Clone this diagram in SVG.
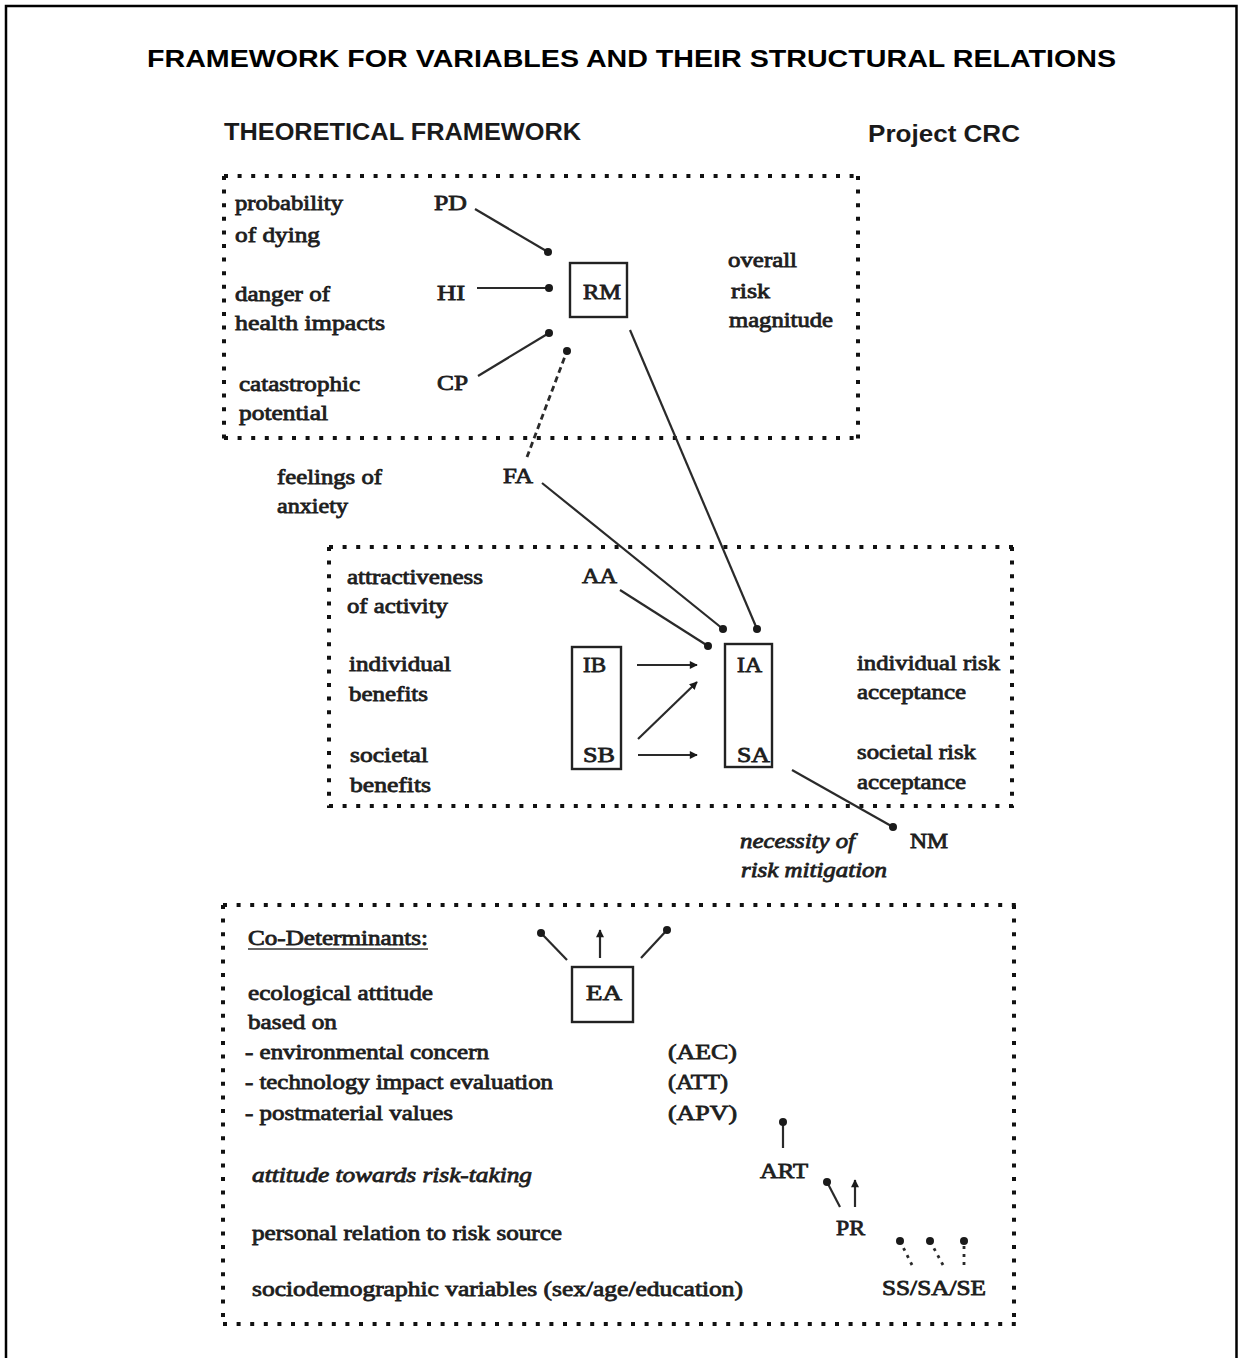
<svg xmlns="http://www.w3.org/2000/svg" width="1238" height="1358" viewBox="0 0 1238 1358">
  <style>
    .frame { fill: none; stroke: #000; stroke-width: 2.5; }
    .title { font-family: "Liberation Sans", Arial, sans-serif; font-weight: bold; fill: #000; }
    .hdr { font-family: "Liberation Sans Narrow", "Liberation Sans", Arial, sans-serif; font-weight: bold; fill: #1a1a1a; }
    .t { font-family: "Liberation Serif", "Times New Roman", serif; font-size: 21px; fill: #1e1e1e; stroke: #1e1e1e; stroke-width: 0.8; }
    .it { font-style: italic; }
    .dots { fill: none; stroke: #111; stroke-width: 4; stroke-dasharray: 4 9.6; }
    .box { fill: none; stroke: #222; stroke-width: 2.4; }
    .ln { fill: none; stroke: #2a2a2a; stroke-width: 2.2; }
    .dash { fill: none; stroke: #2a2a2a; stroke-width: 2.8; stroke-dasharray: 6 4; }
    .dotl { fill: none; stroke: #2a2a2a; stroke-width: 2.8; stroke-dasharray: 3 5; }
  </style>
  <defs>
    <marker id="dot" viewBox="0 0 10 10" refX="5" refY="5" markerWidth="8" markerHeight="8" markerUnits="userSpaceOnUse">
      <circle cx="5" cy="5" r="5" fill="#1a1a1a"/>
    </marker>
    <marker id="arr" viewBox="0 0 10 10" refX="9" refY="5" markerWidth="9" markerHeight="8" markerUnits="userSpaceOnUse" orient="auto">
      <path d="M0,0 L10,5 L0,10 Z" fill="#1a1a1a"/>
    </marker>
  </defs>

  <!-- outer frame, open at the bottom -->
  <path class="frame" d="M6,1358 V6 H1236.5 V1358"/>

  <!-- headings -->
  <text class="title" x="147" y="67" font-size="24" textLength="969" lengthAdjust="spacingAndGlyphs">FRAMEWORK FOR VARIABLES AND THEIR STRUCTURAL RELATIONS</text>
  <text class="hdr" x="224" y="140" font-size="24" textLength="357" lengthAdjust="spacingAndGlyphs">THEORETICAL FRAMEWORK</text>
  <text class="hdr" x="868" y="142" font-size="24" textLength="152" lengthAdjust="spacingAndGlyphs">Project CRC</text>

  <!-- dotted section frames -->
  <g id="section-risk">
    <path class="dots" d="M224,176 H860 M224,176 V440 M224,438 H860 M858,176 V440"/>
    <text class="t" x="235" y="210" textLength="108" lengthAdjust="spacingAndGlyphs">probability</text>
    <text class="t" x="235" y="242" textLength="85" lengthAdjust="spacingAndGlyphs">of dying</text>
    <text class="t" x="235" y="301" textLength="95" lengthAdjust="spacingAndGlyphs">danger of</text>
    <text class="t" x="235" y="330" textLength="150" lengthAdjust="spacingAndGlyphs">health impacts</text>
    <text class="t" x="239" y="391" textLength="121" lengthAdjust="spacingAndGlyphs">catastrophic</text>
    <text class="t" x="239" y="420" textLength="89" lengthAdjust="spacingAndGlyphs">potential</text>
    <text class="t" x="728" y="267" textLength="69" lengthAdjust="spacingAndGlyphs">overall</text>
    <text class="t" x="731" y="298" textLength="39" lengthAdjust="spacingAndGlyphs">risk</text>
    <text class="t" x="729" y="327" textLength="104" lengthAdjust="spacingAndGlyphs">magnitude</text>
  </g>

  <g id="section-acceptance">
    <path class="dots" d="M329,547 H1014 M329,547 V808 M329,806 H1014 M1012,547 V808"/>
    <text class="t" x="347" y="584" textLength="136" lengthAdjust="spacingAndGlyphs">attractiveness</text>
    <text class="t" x="347" y="613" textLength="101" lengthAdjust="spacingAndGlyphs">of activity</text>
    <text class="t" x="349" y="671" textLength="102" lengthAdjust="spacingAndGlyphs">individual</text>
    <text class="t" x="349" y="701" textLength="79" lengthAdjust="spacingAndGlyphs">benefits</text>
    <text class="t" x="350" y="762" textLength="78" lengthAdjust="spacingAndGlyphs">societal</text>
    <text class="t" x="350" y="792" textLength="81" lengthAdjust="spacingAndGlyphs">benefits</text>
    <text class="t" x="857" y="670" textLength="143" lengthAdjust="spacingAndGlyphs">individual risk</text>
    <text class="t" x="857" y="699" textLength="109" lengthAdjust="spacingAndGlyphs">acceptance</text>
    <text class="t" x="857" y="759" textLength="119" lengthAdjust="spacingAndGlyphs">societal risk</text>
    <text class="t" x="857" y="789" textLength="109" lengthAdjust="spacingAndGlyphs">acceptance</text>
  </g>

  <g id="section-codeterminants">
    <path class="dots" d="M223,905 H1016 M223,905 V1326 M223,1324 H1016 M1014,905 V1326"/>
    <text class="t" x="248" y="945" textLength="180" lengthAdjust="spacingAndGlyphs">Co-Determinants:</text>
    <line x1="248" y1="949" x2="428" y2="949" stroke="#333" stroke-width="1.4"/>
    <text class="t" x="248" y="1000" textLength="185" lengthAdjust="spacingAndGlyphs">ecological attitude</text>
    <text class="t" x="248" y="1029" textLength="89" lengthAdjust="spacingAndGlyphs">based on</text>
    <text class="t" x="245" y="1059" textLength="244" lengthAdjust="spacingAndGlyphs">- environmental concern</text>
    <text class="t" x="245" y="1089" textLength="308" lengthAdjust="spacingAndGlyphs">- technology impact evaluation</text>
    <text class="t" x="245" y="1120" textLength="208" lengthAdjust="spacingAndGlyphs">- postmaterial values</text>
    <text class="t it" x="252" y="1182" textLength="280" lengthAdjust="spacingAndGlyphs">attitude towards risk-taking</text>
    <text class="t" x="252" y="1240" textLength="310" lengthAdjust="spacingAndGlyphs">personal relation to risk source</text>
    <text class="t" x="252" y="1296" textLength="491" lengthAdjust="spacingAndGlyphs">sociodemographic variables (sex/age/education)</text>
  </g>

  <!-- variable nodes -->
  <g id="PD"><text class="t" x="434" y="210" textLength="33" lengthAdjust="spacingAndGlyphs">PD</text></g>
  <g id="HI"><text class="t" x="437" y="300" textLength="28" lengthAdjust="spacingAndGlyphs">HI</text></g>
  <g id="CP"><text class="t" x="437" y="390" textLength="31" lengthAdjust="spacingAndGlyphs">CP</text></g>
  <g id="RM">
    <rect class="box" x="570" y="263" width="57" height="54"/>
    <text class="t" x="583" y="299" textLength="38" lengthAdjust="spacingAndGlyphs">RM</text>
  </g>
  <g id="FA">
    <text class="t" x="277" y="484" textLength="105" lengthAdjust="spacingAndGlyphs">feelings of</text>
    <text class="t" x="277" y="513" textLength="71" lengthAdjust="spacingAndGlyphs">anxiety</text>
    <text class="t" x="503" y="483" textLength="30" lengthAdjust="spacingAndGlyphs">FA</text>
  </g>
  <g id="AA"><text class="t" x="582" y="583" textLength="35" lengthAdjust="spacingAndGlyphs">AA</text></g>
  <g id="IB-SB">
    <rect class="box" x="572" y="647" width="49" height="122"/>
    <text class="t" x="583" y="672" textLength="23" lengthAdjust="spacingAndGlyphs">IB</text>
    <text class="t" x="583" y="762" textLength="32" lengthAdjust="spacingAndGlyphs">SB</text>
  </g>
  <g id="IA-SA">
    <rect class="box" x="725" y="644" width="47" height="123"/>
    <text class="t" x="737" y="672" textLength="25" lengthAdjust="spacingAndGlyphs">IA</text>
    <text class="t" x="737" y="762" textLength="33" lengthAdjust="spacingAndGlyphs">SA</text>
  </g>
  <g id="NM">
    <text class="t" x="910" y="848" textLength="38" lengthAdjust="spacingAndGlyphs">NM</text>
    <text class="t it" x="740" y="848" textLength="115" lengthAdjust="spacingAndGlyphs">necessity of</text>
    <text class="t it" x="741" y="877" textLength="146" lengthAdjust="spacingAndGlyphs">risk mitigation</text>
  </g>
  <g id="EA">
    <rect class="box" x="572" y="967" width="61" height="55"/>
    <text class="t" x="586" y="1000" textLength="36" lengthAdjust="spacingAndGlyphs">EA</text>
  </g>
  <g id="AEC-ATT-APV">
    <text class="t" x="668" y="1059" textLength="69" lengthAdjust="spacingAndGlyphs">(AEC)</text>
    <text class="t" x="668" y="1089" textLength="60" lengthAdjust="spacingAndGlyphs">(ATT)</text>
    <text class="t" x="668" y="1120" textLength="69" lengthAdjust="spacingAndGlyphs">(APV)</text>
  </g>
  <g id="ART"><text class="t" x="760" y="1178" textLength="48" lengthAdjust="spacingAndGlyphs">ART</text></g>
  <g id="PR"><text class="t" x="836" y="1235" textLength="29" lengthAdjust="spacingAndGlyphs">PR</text></g>
  <g id="SS-SA-SE"><text class="t" x="882" y="1295" textLength="104" lengthAdjust="spacingAndGlyphs">SS/SA/SE</text></g>

  <!-- connectors -->
  <g id="connectors">
    <line class="ln" x1="475" y1="209" x2="548" y2="252" marker-end="url(#dot)"/>
    <line class="ln" x1="477" y1="288" x2="549" y2="288" marker-end="url(#dot)"/>
    <line class="ln" x1="478" y1="376" x2="549" y2="333" marker-end="url(#dot)"/>
    <line class="dash" x1="527" y1="457" x2="567" y2="351" marker-end="url(#dot)"/>
    <line class="ln" x1="630" y1="330" x2="757" y2="629" marker-end="url(#dot)"/>
    <line class="ln" x1="542" y1="483" x2="723" y2="629" marker-end="url(#dot)"/>
    <line class="ln" x1="620" y1="590" x2="708" y2="646" marker-end="url(#dot)"/>
    <line class="ln" x1="637" y1="665" x2="697" y2="665" marker-end="url(#arr)"/>
    <line class="ln" x1="638" y1="739" x2="697" y2="682" marker-end="url(#arr)"/>
    <line class="ln" x1="638" y1="755" x2="697" y2="755" marker-end="url(#arr)"/>
    <line class="ln" x1="792" y1="770" x2="893" y2="827" marker-end="url(#dot)"/>
    <line class="ln" x1="567" y1="960" x2="541" y2="933" marker-end="url(#dot)"/>
    <line class="ln" x1="600" y1="958" x2="600" y2="930" marker-end="url(#arr)"/>
    <line class="ln" x1="641" y1="958" x2="667" y2="930" marker-end="url(#dot)"/>
    <line class="ln" x1="783" y1="1148" x2="783" y2="1122" marker-end="url(#dot)"/>
    <line class="ln" x1="840" y1="1207" x2="827" y2="1182" marker-end="url(#dot)"/>
    <line class="ln" x1="855" y1="1207" x2="855" y2="1180" marker-end="url(#arr)"/>
    <line class="dotl" x1="912" y1="1265" x2="900" y2="1241" marker-end="url(#dot)"/>
    <line class="dotl" x1="943" y1="1265" x2="930" y2="1241" marker-end="url(#dot)"/>
    <line class="dotl" x1="964" y1="1265" x2="964" y2="1241" marker-end="url(#dot)"/>
  </g>
</svg>
